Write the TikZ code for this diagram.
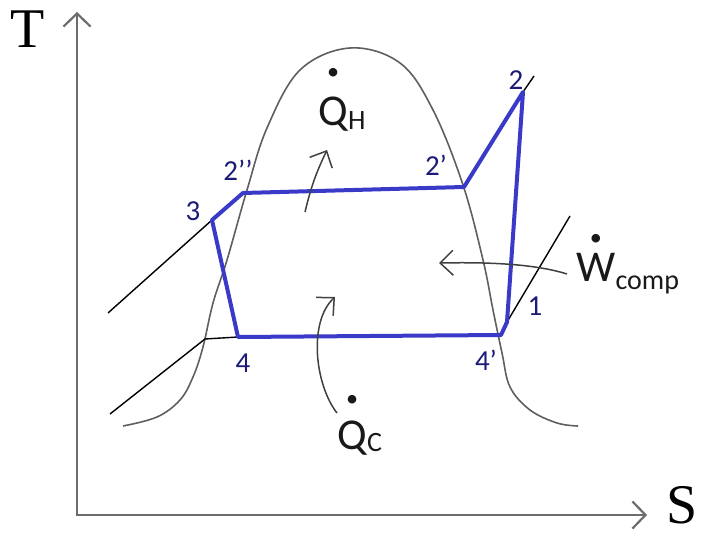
\documentclass[tikz,border=0pt]{standalone}
\usepackage{fontspec}
\setmainfont{Carlito}
\newfontfamily\axisfont{Liberation Serif}
\usetikzlibrary{arrows.meta, positioning}
\definecolor{cycleblue}{RGB}{58,58,200}
\definecolor{labelnavy}{RGB}{28,28,120}
\definecolor{domegray}{RGB}{95,95,95}
\tikzset{
    axis/.style={draw=gray!85!black, line width=1.1pt, {Straight Barb[length=6.5pt,width=13.5pt]}-{Straight Barb[length=6.5pt,width=13.5pt]}},
    axislabel/.style={inner sep=0pt, font=\axisfont\fontsize{28}{28}\selectfont},
    dome/.style={draw=domegray, line width=0.8pt},
    isobar/.style={draw=black, line width=0.7pt},
    cycleline/.style={draw=cycleblue, line width=2pt, line join=round},
    heatarrow/.style={draw=black!75, line width=0.75pt, -{Straight Barb[length=6.5pt,width=12.5pt]}},
    statelabel/.style={text=labelnavy, font=\fontsize{14.5}{14.5}\selectfont, inner sep=0pt},
    ratelabel/.style={text=black!90, inner sep=0pt, anchor=base west, font=\fontsize{22}{22}\selectfont}
}
% letter with a rate dot on top
\newcommand{\ratesym}[2]{\setbox0=\hbox{#1}\rlap{\hbox to \wd0{\hss\raisebox{#2}{\scalebox{0.55}{\textbullet}}\hss}}\box0}

\begin{document}
\begin{tikzpicture}[x=0.5pt, y=-0.5pt]
    \useasboundingbox (0,0) rectangle (704,533);

    % axes
    \coordinate (origin) at (77,515);
    \coordinate (ttip) at (77,12);
    \coordinate (stip) at (647,515);
    \draw [axis] (ttip) -- (origin) -- (stip);
    \node (tlabel) [axislabel] at (28,29) {T};
    \node (slabel) [axislabel] at (682,505) {S};

    % saturation dome
    \draw [dome] plot[smooth, tension=0.6] coordinates {(123,426) (157,417) (180,400) (193,377) (203,347) (213,303) (227,260) (247,190) (267,128) (300,70) (350,48) (400,63) (433,110) (463,185) (483,260) (493,310) (502,353) (510,387) (530,410) (557,423) (578,426)};

    % state points
    \coordinate (p1) at (507,322);
    \coordinate (p2) at (523,92);
    \coordinate (p2d) at (464,187);
    \coordinate (p2dd) at (243,193);
    \coordinate (p3) at (212,220);
    \coordinate (p4) at (238,337);
    \coordinate (p4d) at (501,335);

    % isobars
    \coordinate (hpstart) at (108,313);
    \coordinate (lpstart) at (110,414);
    \coordinate (lpsat) at (205,339);
    \coordinate (hpend) at (534,76);
    \coordinate (lpend) at (570,216);
    \draw [isobar] (hpstart) -- (p3);
    \draw [isobar] (lpstart) -- (lpsat) -- (p4);
    \draw [isobar] (p2) -- (hpend);
    \draw [isobar] (p1) -- (lpend);

    % cycle
    \draw [cycleline] (p2dd) -- (p2d) -- (p2) -- (p1) -- (p4d) -- (p4) -- (p3) -- cycle;

    \node (l1) [statelabel] at (535,306) {1};
    \node (l2) [statelabel] at (516,80) {2};
    \node (l2d) [statelabel] at (436,165) {2’};
    \node (l2dd) [statelabel] at (238,170) {2’’};
    \node (l3) [statelabel] at (193,211) {3};
    \node (l4) [statelabel] at (243,363) {4};
    \node (l4d) [statelabel] at (486,360) {4’};

    % heat and work
    \node (qh) [ratelabel] at (318,126) {\ratesym{Q}{1.05em}{\fontsize{14}{14}\selectfont\raisebox{-2pt}{H}}};
    \node (qc) [ratelabel] at (337,449) {\ratesym{Q}{0.97em}{\fontsize{14}{14}\selectfont\raisebox{-1pt}{C}}};
    \node (wc) [ratelabel] at (576,282) {\ratesym{W}{0.84em}{\fontsize{14}{14}\selectfont\raisebox{-4pt}{comp}}};

    \coordinate (qhtail) at (305,212);
    \coordinate (qhtip) at (327,150);
    \coordinate (qctail) at (337,413);
    \coordinate (qctip) at (335,297);
    \coordinate (wtail) at (567,274);
    \coordinate (wtip) at (439,263);
    \draw [heatarrow] (qhtail) to[bend left=6] (qhtip);
    \draw [heatarrow] (qctail) .. controls (315,385) and (308,322) .. (qctip);
    \draw [heatarrow] (wtail) .. controls (535,264) and (490,262) .. (wtip);
\end{tikzpicture}
\end{document}
